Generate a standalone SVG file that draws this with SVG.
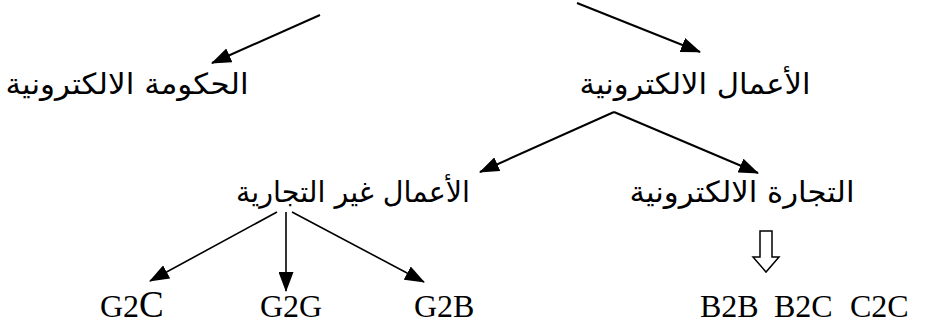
<svg xmlns="http://www.w3.org/2000/svg" width="925" height="326" viewBox="0 0 925 326">
<style>
.ar{font-family:"DejaVu Sans",sans-serif;font-size:29px;fill:#000;text-anchor:middle}
.lt{font-family:"Liberation Serif","Times New Roman",serif;font-size:32px;fill:#000}
.cn{fill:none;stroke:#000;stroke-width:2}
.thin{stroke-width:1.6}
</style>
<defs>
<marker id="ah" viewBox="0 0 20 15" refX="19" refY="7.5" markerWidth="20" markerHeight="15" markerUnits="userSpaceOnUse" orient="auto">
<path d="M0,0 L20,7.5 L0,15 Z" fill="#000"/>
</marker>
</defs>
<rect width="925" height="326" fill="#fff"/>
<g id="connectors">
<line class="cn" x1="320" y1="15" x2="212" y2="63" marker-end="url(#ah)"/>
<line class="cn" x1="577" y1="3" x2="700" y2="52" marker-end="url(#ah)"/>
<line class="cn" x1="614" y1="112" x2="480" y2="172" marker-end="url(#ah)"/>
<line class="cn" x1="614" y1="112" x2="758" y2="173" marker-end="url(#ah)"/>
<line class="cn thin" x1="277" y1="212" x2="150" y2="281" marker-end="url(#ah)"/>
<line class="cn thin" x1="286" y1="212" x2="286" y2="291" marker-end="url(#ah)"/>
<line class="cn thin" x1="292" y1="212" x2="424" y2="282" marker-end="url(#ah)"/>
<path d="M760,231 H772 V257 H779 L766,272 L753,257 H760 Z" fill="#fff" stroke="#000" stroke-width="1.5" stroke-linejoin="miter"/>
</g>
<g id="n-gov"><text class="ar" x="127" y="94" textLength="243" lengthAdjust="spacingAndGlyphs" direction="rtl">الحكومة الالكترونية</text></g>
<g id="n-ebiz"><text class="ar" x="695" y="94" textLength="231" lengthAdjust="spacingAndGlyphs" direction="rtl">الأعمال الالكترونية</text></g>
<g id="n-noncom"><text class="ar" x="353" y="202" textLength="234" lengthAdjust="spacingAndGlyphs" direction="rtl">الأعمال غير التجارية</text></g>
<g id="n-ecom"><text class="ar" x="742" y="202" textLength="225" lengthAdjust="spacingAndGlyphs" direction="rtl">التجارة الالكترونية</text></g>
<g id="n-g2c"><text class="lt" x="100" y="317">G2<tspan font-size="37">C</tspan></text></g>
<g id="n-g2g"><text class="lt" x="260" y="317">G2G</text></g>
<g id="n-g2b"><text class="lt" x="414" y="317">G2B</text></g>
<g id="n-b2b"><text class="lt" x="700" y="317">B2B</text></g>
<g id="n-b2c"><text class="lt" x="774" y="317">B2C</text></g>
<g id="n-c2c"><text class="lt" x="850" y="317">C2C</text></g>
</svg>
